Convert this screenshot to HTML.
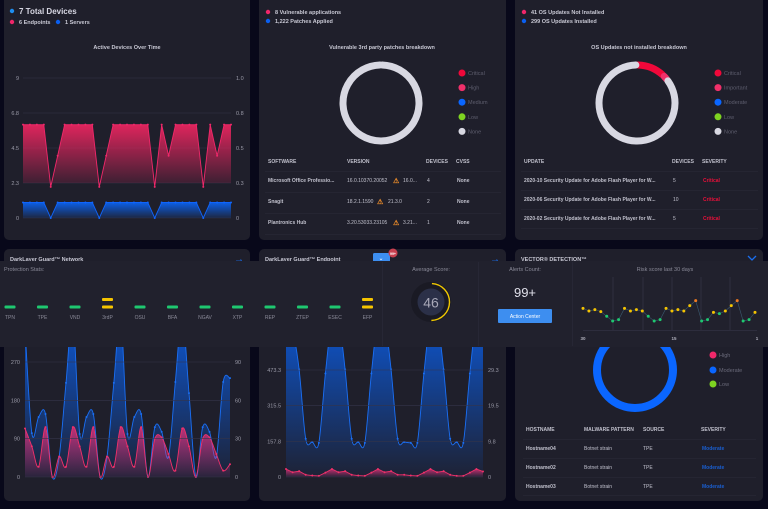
<!DOCTYPE html>
<html><head><meta charset="utf-8"><style>
html,body{margin:0;padding:0;background:#08081a;width:768px;height:509px;overflow:hidden}
svg{display:block;font-family:"Liberation Sans",sans-serif}
</style></head><body>
<svg id="root" width="768" height="509" viewBox="0 0 768 509" xmlns="http://www.w3.org/2000/svg">
<defs>
<linearGradient id="gPink" x1="0" y1="0" x2="0" y2="1"><stop offset="0" stop-color="#e8255f" stop-opacity="0.95"/><stop offset="1" stop-color="#e8255f" stop-opacity="0.1"/></linearGradient>
<linearGradient id="gBlue" x1="0" y1="0" x2="0" y2="1"><stop offset="0" stop-color="#0a62f0" stop-opacity="0.95"/><stop offset="1" stop-color="#0a62f0" stop-opacity="0.12"/></linearGradient>
<linearGradient id="gBlue2" x1="0" y1="0" x2="0" y2="1"><stop offset="0" stop-color="#0a5ee8" stop-opacity="0.9"/><stop offset="1" stop-color="#0a5ee8" stop-opacity="0.05"/></linearGradient>
<linearGradient id="gPink2" x1="0" y1="0" x2="0" y2="1"><stop offset="0" stop-color="#e8307a" stop-opacity="0.8"/><stop offset="1" stop-color="#e8307a" stop-opacity="0.05"/></linearGradient>
<clipPath id="clipB1"><rect x="20" y="340" width="215" height="140"/></clipPath>
<clipPath id="clipB2"><rect x="280" y="340" width="210" height="140"/></clipPath>
</defs>

<!-- top cards -->
<rect x="4" y="-6" width="246" height="246" rx="5" fill="#1f1f2b"/>
<rect x="259" y="-6" width="247" height="246" rx="5" fill="#1f1f2b"/>
<rect x="515" y="-6" width="248" height="246" rx="5" fill="#1f1f2b"/>
<!-- bottom cards -->
<rect x="4" y="249" width="246" height="252" rx="5" fill="#1f1f2b"/>
<rect x="259" y="249" width="247" height="252" rx="5" fill="#1f1f2b"/>
<rect x="515" y="249" width="248" height="252" rx="5" fill="#1f1f2b"/>

<!-- Card 1 header -->
<circle cx="12" cy="11" r="2.2" fill="#1e8ef0"/>
<text x="19" y="14" font-size="8" font-weight="bold" fill="#d8d8e4">7  Total Devices</text>
<circle cx="12" cy="22" r="2.2" fill="#f0266a"/>
<text x="19" y="24.2" font-size="5.5" font-weight="bold" fill="#c8c8d4">6 Endpoints</text>
<circle cx="58" cy="22" r="2.2" fill="#0a5ff0"/>
<text x="65" y="24.2" font-size="5.5" font-weight="bold" fill="#c8c8d4">1 Servers</text>
<text x="127" y="49" font-size="5.5" font-weight="bold" fill="#c8c8d4" text-anchor="middle">Active Devices Over Time</text>
<g id="chart1"></g>

<!-- Card 2 -->
<circle cx="268" cy="12" r="2.2" fill="#f0266a"/>
<text x="275" y="14" font-size="5.5" font-weight="bold" fill="#c8c8d4">8 Vulnerable applications</text>
<circle cx="268" cy="21" r="2.2" fill="#0a5ff0"/>
<text x="275" y="23" font-size="5.5" font-weight="bold" fill="#c8c8d4">1,222 Patches Applied</text>
<text x="382" y="49" font-size="5.5" font-weight="bold" fill="#c8c8d4" text-anchor="middle">Vulnerable 3rd party patches breakdown</text>
<g id="donut1"></g>
<g id="legend1"></g>
<g font-size="5" font-weight="bold" fill="#c0c0cc">
<text x="268" y="163">SOFTWARE</text>
<text x="347" y="163">VERSION</text>
<text x="426" y="163">DEVICES</text>
<text x="456" y="163">CVSS</text>
<line x1="265" x2="501" y1="171.5" y2="171.5" stroke="#2c2c3a" stroke-width="0.6"/>
<line x1="265" x2="501" y1="192.5" y2="192.5" stroke="#2c2c3a" stroke-width="0.6"/>
<line x1="265" x2="501" y1="213.5" y2="213.5" stroke="#2c2c3a" stroke-width="0.6"/>
<line x1="265" x2="501" y1="234.5" y2="234.5" stroke="#2c2c3a" stroke-width="0.6"/>
<text x="268" y="182">Microsoft Office Professio...</text>
<text x="347" y="182" font-weight="normal">16.0.10370.20052</text>
<text x="393" y="183" fill="#e88a2a" font-size="7">⚠</text>
<text x="403" y="182" font-weight="normal">16.0...</text>
<text x="427" y="182" font-weight="normal">4</text><text x="457" y="182">None</text>
<text x="268" y="203">Snagit</text>
<text x="347" y="203" font-weight="normal">18.2.1.1590</text>
<text x="377" y="204" fill="#e88a2a" font-size="7">⚠</text>
<text x="388" y="203" font-weight="normal">21.3.0</text>
<text x="427" y="203" font-weight="normal">2</text><text x="457" y="203">None</text>
<text x="268" y="224">Plantronics Hub</text>
<text x="347" y="224" font-weight="normal">3.20.53033.23105</text>
<text x="393" y="225" fill="#e88a2a" font-size="7">⚠</text>
<text x="403" y="224" font-weight="normal">3.21...</text>
<text x="427" y="224" font-weight="normal">1</text><text x="457" y="224">None</text>
</g>

<!-- Card 3 -->
<circle cx="524" cy="12" r="2.2" fill="#f0266a"/>
<text x="531" y="14" font-size="5.5" font-weight="bold" fill="#c8c8d4">41 OS Updates Not Installed</text>
<circle cx="524" cy="21" r="2.2" fill="#0a5ff0"/>
<text x="531" y="23" font-size="5.5" font-weight="bold" fill="#c8c8d4">299 OS Updates Installed</text>
<text x="639" y="49" font-size="5.5" font-weight="bold" fill="#c8c8d4" text-anchor="middle">OS Updates not installed breakdown</text>
<g id="donut2"></g>
<g id="legend2"></g>
<g font-size="5" font-weight="bold" fill="#c0c0cc">
<text x="524" y="163">UPDATE</text>
<text x="672" y="163">DEVICES</text>
<text x="702" y="163">SEVERITY</text>
<line x1="521" x2="758" y1="171.5" y2="171.5" stroke="#2c2c3a" stroke-width="0.6"/>
<line x1="521" x2="758" y1="190.5" y2="190.5" stroke="#2c2c3a" stroke-width="0.6"/>
<line x1="521" x2="758" y1="209.5" y2="209.5" stroke="#2c2c3a" stroke-width="0.6"/>
<line x1="521" x2="758" y1="228.5" y2="228.5" stroke="#2c2c3a" stroke-width="0.6"/>
<text x="524" y="182">2020-10 Security Update for Adobe Flash Player for W...</text>
<text x="673" y="182" font-weight="normal">5</text><text x="703" y="182" fill="#e8103a">Critical</text>
<text x="524" y="201">2020-06 Security Update for Adobe Flash Player for W...</text>
<text x="673" y="201" font-weight="normal">10</text><text x="703" y="201" fill="#e8103a">Critical</text>
<text x="524" y="220">2020-02 Security Update for Adobe Flash Player for W...</text>
<text x="673" y="220" font-weight="normal">5</text><text x="703" y="220" fill="#e8103a">Critical</text>
</g>

<!-- bottom card headers -->
<text x="10" y="261" font-size="5.5" font-weight="bold" fill="#c8c8d4">DarkLayer Guard™ Network</text>
<text x="234" y="262" font-size="10" fill="#1a6ff0">→</text>
<text x="265" y="261" font-size="5.5" font-weight="bold" fill="#c8c8d4">DarkLayer Guard™ Endpoint</text>
<rect x="373" y="253" width="17" height="9" rx="1.5" fill="#3d8ef0"/>
<text x="381" y="260" font-size="6" fill="#fff" text-anchor="middle">⌄</text>
<circle cx="393" cy="253" r="4.5" fill="#c84050"/>
<text x="393" y="255" font-size="3.5" fill="#fff" text-anchor="middle" font-weight="bold">99+</text>
<text x="490" y="262" font-size="10" fill="#1a6ff0">→</text>
<text x="521" y="261" font-size="5.5" font-weight="bold" fill="#c8c8d4">VECTOR® DETECTION™</text>
<path d="M748 256 L752 260 L756 256" stroke="#1a6ff0" stroke-width="1.3" fill="none"/>

<!-- bottom charts -->
<g id="chart2"></g>
<g id="chart3"></g>

<!-- vector detection donut -->
<circle cx="635" cy="370" r="38" fill="none" stroke="#0a66ff" stroke-width="8"/>
<g font-size="5.5" fill="#6a6a7a">
<circle cx="713" cy="355" r="3.5" fill="#f0286a"/><text x="719" y="357">High</text>
<circle cx="713" cy="370" r="3.5" fill="#0a66ff"/><text x="719" y="372">Moderate</text>
<circle cx="713" cy="384" r="3.5" fill="#7ed321"/><text x="719" y="386">Low</text>
</g>
<g font-size="5" font-weight="bold" fill="#c0c0cc">
<text x="526" y="431">HOSTNAME</text><text x="584" y="431">MALWARE PATTERN</text><text x="643" y="431">SOURCE</text><text x="701" y="431">SEVERITY</text>
<line x1="523" x2="756" y1="439.5" y2="439.5" stroke="#2c2c3a" stroke-width="0.6"/>
<line x1="523" x2="756" y1="458.5" y2="458.5" stroke="#2c2c3a" stroke-width="0.6"/>
<line x1="523" x2="756" y1="477.5" y2="477.5" stroke="#2c2c3a" stroke-width="0.6"/>
<line x1="523" x2="756" y1="495.5" y2="495.5" stroke="#2c2c3a" stroke-width="0.6"/>
<text x="526" y="450">Hostname04</text><text x="584" y="450" font-weight="normal">Botnet strain</text><text x="643" y="450" font-weight="normal">TPE</text><text x="702" y="450" fill="#1a5fd0">Moderate</text>
<text x="526" y="469">Hostname02</text><text x="584" y="469" font-weight="normal">Botnet strain</text><text x="643" y="469" font-weight="normal">TPE</text><text x="702" y="469" fill="#1a5fd0">Moderate</text>
<text x="526" y="488">Hostname03</text><text x="584" y="488" font-weight="normal">Botnet strain</text><text x="643" y="488" font-weight="normal">TPE</text><text x="702" y="488" fill="#1a5fd0">Moderate</text>
</g>

<!-- Overlay panel -->
<rect x="0" y="261" width="768" height="86" fill="#21212d"/>
<line x1="382.5" y1="262" x2="382.5" y2="346" stroke="#2a2a38" stroke-width="0.8"/>
<line x1="478.5" y1="262" x2="478.5" y2="346" stroke="#2a2a38" stroke-width="0.8"/>
<line x1="572.5" y1="262" x2="572.5" y2="346" stroke="#2a2a38" stroke-width="0.8"/>
<text x="4" y="271" font-size="5.5" fill="#8a8a98">Protection Stats:</text>
<g id="stats"></g>

<text x="431" y="271" font-size="5.5" fill="#8a8a98" text-anchor="middle">Average Score:</text>
<circle cx="431" cy="302" r="20" fill="#1a1a24"/>
<circle cx="431" cy="302" r="13.5" fill="#2b3048"/>
<path id="gaugeArc" fill="none" stroke="#f0c800" stroke-width="1.4"/>
<text x="431" y="307.5" font-size="14" fill="#a8a8b8" text-anchor="middle">46</text>

<text x="525" y="271" font-size="5.5" fill="#8a8a98" text-anchor="middle">Alerts Count:</text>
<text x="525" y="297" font-size="13" fill="#e0e0ea" text-anchor="middle">99+</text>
<rect x="498" y="309" width="54" height="14" rx="1" fill="#3d8ef0"/>
<text x="525" y="318" font-size="5" fill="#fff" text-anchor="middle">Action Center</text>

<text x="665" y="271" font-size="5.5" fill="#8a8a98" text-anchor="middle">Risk score last 30 days</text>
<g id="risk"></g>
</svg>
<script>
// ---------- data ----------
const deviceEndpoints = [6,6,6,6,2,4,6,6,6,6,6,2,4,6,6,6,6,6,6,2,6,4,6,6,6,6,2,6,4,6,6];
const deviceServers = [1,1,1,1,0,1,1,1,1,1,1,0,1,1,1,1,1,1,1,0,1,1,1,1,1,1,0,1,1,1,1];
const deviceLeftTicks = ["0","2.3","4.5","6.8","9"];
const deviceRightTicks = ["0","0.3","0.5","0.8","1.0"];

const patchSeverities = ["Critical","High","Medium","Low","None"];
const patchCounts = [0,0,0,0,8];
const osSeverities = ["Critical","Important","Moderate","Low","None"];
const osCounts = [5,1,0,0,35];

const networkBlue = [350,103,141,148,0,47,221,380,101,141,148,0,47,221,380,101,141,148,0,117,106,47,223,380,197,0,117,106,47,223,232];
const networkPink = [38,24,8,39,0,16,8,39,24,8,39,0,16,8,39,24,8,39,0,30,31,18,5,38,24,0,30,31,18,5,10];
const networkLeftTicks = ["0","90","180","270"];
const networkRightTicks = ["0","30","60","90"];

const endpointBlue = [700,650,476,169,155,151,458,700,700,476,169,155,151,458,700,700,476,169,155,151,151,458,700,700,476,169,155,151,458,700,700];
const endpointPink = [2.2,1.3,1.6,0.6,0.4,0.3,1.2,2.2,1.3,1.6,0.6,0.4,0.3,1.2,2.2,1.3,1.6,0.6,0.6,0.4,0.3,1.2,2.2,1.3,1.6,0.6,0.3,0.3,1.2,2.2,1.5];
const endpointLeftTicks = ["0","157.8","315.5","473.3"];
const endpointRightTicks = ["0","9.8","19.5","29.3"];

const statLabels = ["TPN","TPE","VND","3rdP","OSU","BFA","NGAV","XTP","REP","ZTEP","ESEC","EFP"];
const statLevels = [1,1,1,2,1,1,1,1,1,1,1,2];

const riskScores = [60,52,56,50,36,22,26,60,52,56,52,36,22,26,60,52,56,52,68,83,22,26,48,44,52,68,83,22,26,48];
const riskXTicks = ["30","15","1"];
const averageScore = 46;

// ---------- helpers ----------
const NS = "http://www.w3.org/2000/svg";
function mk(tag, attrs, parent){const e=document.createElementNS(NS,tag);for(const k in attrs)e.setAttribute(k,attrs[k]);parent.appendChild(e);return e;}
function lin(d0,d1,r0,r1){return v=>r0+(v-d0)/(d1-d0)*(r1-r0);}
function linePath(pts){return pts.map((p,i)=>(i?"L":"M")+p[0].toFixed(2)+" "+p[1].toFixed(2)).join(" ");}
function smoothPath(pts){let d="M"+pts[0][0]+" "+pts[0][1];for(let i=0;i<pts.length-1;i++){const p0=pts[i-1]||pts[i],p1=pts[i],p2=pts[i+1],p3=pts[i+2]||p2;const c1=[p1[0]+(p2[0]-p0[0])/6,p1[1]+(p2[1]-p0[1])/6],c2=[p2[0]-(p3[0]-p1[0])/6,p2[1]-(p3[1]-p1[1])/6];d+=` C${c1[0].toFixed(2)} ${c1[1].toFixed(2)} ${c2[0].toFixed(2)} ${c2[1].toFixed(2)} ${p2[0].toFixed(2)} ${p2[1].toFixed(2)}`;}return d;}

function axes(g, x0, x1, yTicksPx, left, right, lx, rx){
  yTicksPx.forEach((y,i)=>{
    const l=mk("line",{x1:x0,x2:x1,y1:y,y2:y,stroke:"#34344a","stroke-width":0.6},g);
    
    
    const t=mk("text",{x:lx,y:y+2,"font-size":5.5,fill:"#9a9aa8","text-anchor":"end"},g);t.textContent=left[i];
    
    
    const r=mk("text",{x:rx,y:y+2,"font-size":5.5,fill:"#9a9aa8"},g);r.textContent=right[i];
    
    
  });
}
function series(g, pts, baseY, color, grad, smooth, dotR, name){
  const p = smooth?smoothPath(pts):linePath(pts);
  const a=mk("path",{d:p+` L${pts[pts.length-1][0]} ${baseY} L${pts[0][0]} ${baseY} Z`,fill:`url(#${grad})`},g);
  
  
  const l=mk("path",{d:p,fill:"none",stroke:color,"stroke-width":0.9},g);
  
  
  pts.forEach(q=>{const c=mk("circle",{cx:q[0],cy:q[1],r:dotR,fill:color},g);
    
    });
}

// ---------- chart 1 ----------
(function(){
  const g=document.getElementById("chart1");
  const y=lin(0,9,218,78), x=lin(0,deviceEndpoints.length-1,23,231);
  axes(g,23,231,[0,2.25,4.5,6.75,9].map(y),deviceLeftTicks,deviceRightTicks,19,236);
  series(g,deviceEndpoints.map((v,i)=>[x(i),y(v)]),183,"#f0286a","gPink",false,1,"endpoints");
  series(g,deviceServers.map((v,i)=>[x(i),y(v)]),218,"#1066ff","gBlue",false,1,"servers");
})();

// ---------- donuts ----------
function donut(id, cx, cy, r, counts, colors){
  const g=document.getElementById(id);
  const total=counts.reduce((a,b)=>a+b,0), gap=0.06;
  let a0=-Math.PI/2;
  counts.forEach((c,i)=>{ if(!c) return;
    const sweep=c/total*Math.PI*2; const s=a0+gap/2, e=a0+sweep-gap/2;
    const large=(e-s)>Math.PI?1:0;
    const p=mk("path",{d:`M${cx+r*Math.cos(s)} ${cy+r*Math.sin(s)} A${r} ${r} 0 ${large} 1 ${cx+r*Math.cos(e)} ${cy+r*Math.sin(e)}`,fill:"none",stroke:colors[i],"stroke-width":7,"stroke-linecap":"round"},g);
    
    
    a0+=sweep;});
}
const sevColors=["#f0083a","#f0306a","#0a66ff","#7ed321","#d8d8e2"];
donut("donut1",381,103,38,patchCounts,sevColors);
donut("donut2",637,103,38,osCounts,sevColors);
function legend(id,x,labels){const g=document.getElementById(id);labels.forEach((l,i)=>{const yy=73+i*14.6;
  const c=mk("circle",{cx:x,cy:yy,r:3.5,fill:sevColors[i]},g);
  
  
  const t=mk("text",{x:x+6,y:yy+2,"font-size":5.5,fill:"#5e5e6e"},g);t.textContent=l;
  
  });}
legend("legend1",462,patchSeverities);
legend("legend2",718,osSeverities);

// ---------- chart 2 ----------
(function(){
  const g=document.getElementById("chart2"); const inner=mk("g",{"clip-path":"url(#clipB1)"},g);
  const y=lin(0,270,477,362), x=lin(0,networkBlue.length-1,25,230);
  axes(g,25,230,[0,90,180,270].map(y),networkLeftTicks,networkRightTicks,20,235);
  series(inner,networkBlue.map((v,i)=>[x(i),y(v)]),477,"#1a6ff5","gBlue2",true,1,"network-blue");
  series(inner,networkPink.map((v,i)=>[x(i),y(v*3)]),477,"#f0306a","gPink2",true,1,"network-pink");
})();
// ---------- chart 3 ----------
(function(){
  const g=document.getElementById("chart3"); const inner=mk("g",{"clip-path":"url(#clipB2)"},g);
  const y=lin(0,473.3,477,370), x=lin(0,endpointBlue.length-1,286,483);
  axes(g,286,483,[0,157.8,315.5,473.3].map(y),endpointLeftTicks,endpointRightTicks,281,488);
  series(inner,endpointBlue.map((v,i)=>[x(i),y(v)]),477,"#1a6ff5","gBlue2",true,1,"endpoint-blue");
  series(inner,endpointPink.map((v,i)=>[x(i),y(v*473.3/29.3)]),477,"#f0306a","gPink2",false,1,"endpoint-pink");
})();

// ---------- protection stats ----------
(function(){
  const g=document.getElementById("stats");
  statLabels.forEach((l,i)=>{const cx=10+i*32.5; const yellow=statLevels[i]>1;
    for(let k=0;k<statLevels[i];k++){const r=mk("rect",{x:cx-5.5,y:305.5-k*7.5,width:11,height:3,rx:1,fill:yellow?"#f5c400":"#1ec870"},g);
      
      }
    const t=mk("text",{x:cx,y:319,"font-size":5,fill:"#8a8a98","text-anchor":"middle"},g);t.textContent=l;
    
    });
})();

// ---------- gauge ----------
(function(){const cx=431,cy=302,r=18.5;const s=-Math.PI/2+0.05,e=-Math.PI/2+averageScore/100*Math.PI*2*1.08;
  document.getElementById("gaugeArc").setAttribute("d",`M${cx+r*Math.cos(s)} ${cy+r*Math.sin(s)} A${r} ${r} 0 ${(e-s)>Math.PI?1:0} 1 ${cx+r*Math.cos(e)} ${cy+r*Math.sin(e)}`);})();

// ---------- risk chart ----------
(function(){
  const g=document.getElementById("risk");
  const x=lin(0,riskScores.length-1,583,755), y=lin(0,100,328.3,295);
  [613,643,672,701,730].forEach(vx=>{const l=mk("line",{x1:vx,x2:vx,y1:277,y2:330,stroke:"#3a3a4e","stroke-width":0.6},g);
    
    });
  const base=mk("line",{x1:583,x2:757,y1:330.5,y2:330.5,stroke:"#3a3a4e","stroke-width":0.6},g);
  
  
  const pts=riskScores.map((v,i)=>[x(i),y(v)]);
  const l=mk("path",{d:linePath(pts),fill:"none",stroke:"#3a5a70","stroke-width":0.6},g);
  
  
  riskScores.forEach((v,i)=>{const col=v>=75?"#f07a20":(v>=45?"#f5c400":"#1ec870");
    const c=mk("circle",{cx:x(i),cy:y(v),r:1.5,fill:col},g);
    
    });
  const tx=[583,674,757];
  riskXTicks.forEach((t,i)=>{const e=mk("text",{x:tx[i],y:340,"font-size":4.5,"font-weight":"bold",fill:"#b0b0bc","text-anchor":"middle"},g);e.textContent=t;
    
    });
})();
</script>
</body></html>
